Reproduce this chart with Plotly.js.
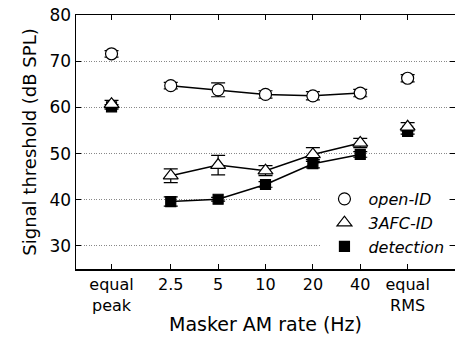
<!DOCTYPE html>
<html>
<head>
<meta charset="utf-8">
<script src="https://cdn.plot.ly/plotly-3.0.1.min.js"></script>
<style>html,body{margin:0;padding:0;background:#fff;}#chart{width:455px;height:339px;}</style>
</head>
<body>
<div id="chart"></div>
<script>
// Category positions and labels
const tickPos = [-1.25, 0, 1, 2, 3, 4, 5];
const tickLabels = ["equal<br>peak", "2.5", "5", "10", "20", "40", "equal<br>RMS"];
// AM-rate conditions (connected)
const amX = [0, 1, 2, 3, 4];
// reference conditions (equal peak, equal RMS)
const refX = [-1.25, 5];

const openAM = [64.7, 63.8, 62.8, 62.5, 63.1];
const openAMerr = [0.7, 1.5, 0.8, 0.9, 0.8];
const openRef = [71.6, 66.3];
const openRefErr = [0.7, 0.8];

const afcAM = [45.2, 47.5, 46.3, 49.8, 52.3];
const afcAMerr = [1.5, 2.1, 1.1, 1.5, 1.0];
const afcRef = [60.7, 55.8];
const afcRefErr = [0.8, 0.9];

const detAM = [39.6, 40.1, 43.3, 47.8, 49.8];
const detAMerr = [1.0, 0.4, 0.6, 0.9, 0.6];
const detRef = [60.1, 54.8];
const detRefErr = [0.5, 0.6];

function series(name, yAM, eAM, yRef, eRef, symbol, fill, size, rank) {
  const marker = {symbol: symbol, size: size, color: fill, line: {color: '#000', width: 1.2}};
  const err = (a) => ({type: 'data', array: a, visible: true, color: '#000', thickness: 1.2, width: 7});
  return [
    {x: amX, y: yAM, mode: 'lines+markers', showlegend: false, name: name,
     line: {color: '#000', width: 1.5}, marker: marker, error_y: err(eAM), cliponaxis: false},
    {x: refX, y: yRef, mode: 'markers', name: name, legendrank: rank,
     marker: marker, error_y: err(eRef), cliponaxis: false}
  ];
}

const data = [].concat(
  series('detection', detAM, detAMerr, detRef, detRefErr, 'square', '#000', 10, 3),
  series('3AFC-ID', afcAM, afcAMerr, afcRef, afcRefErr, 'triangle-up', '#fff', 13, 2),
  series('open-ID', openAM, openAMerr, openRef, openRefErr, 'circle', '#fff', 12, 1)
);

const fontFam = 'DejaVu Sans, sans-serif';
const layout = {
  width: 455, height: 339,
  margin: {l: 76, r: 0, t: 15, b: 70},
  paper_bgcolor: '#fff', plot_bgcolor: '#fff',
  font: {family: fontFam, size: 16, color: '#000'},
  showlegend: true,
  legend: {x: 0.645, y: 0.02, xanchor: 'left', yanchor: 'bottom', bgcolor: '#fff',
           font: {family: fontFam, size: 16, style: 'italic', color: '#000'}, tracegroupgap: 0,
           itemwidth: 38},
  xaxis: {
    range: [-2, 6], tickmode: 'array', tickvals: tickPos, ticktext: tickLabels,
    ticks: 'inside', ticklen: 5, tickcolor: '#000', showgrid: false, zeroline: false,
    showline: true, linecolor: '#000', linewidth: 1.5, mirror: 'ticks',
    title: {text: 'Masker AM rate (Hz)', font: {size: 19}, standoff: 4},
    tickfont: {size: 16}
  },
  yaxis: {
    range: [25, 80], tickvals: [30, 40, 50, 60, 70, 80],
    ticks: 'inside', ticklen: 5, tickcolor: '#000', zeroline: false,
    showgrid: true, gridcolor: '#888', griddash: '1px,1.5px', gridwidth: 1,
    showline: true, linecolor: '#000', linewidth: 1.5, mirror: 'ticks',
    title: {text: 'Signal threshold (dB SPL)', font: {size: 18}, standoff: 8},
    tickfont: {size: 17}
  }
};

Plotly.newPlot('chart', data, layout, {displayModeBar: false, staticPlot: true});
</script>
</body>
</html>
